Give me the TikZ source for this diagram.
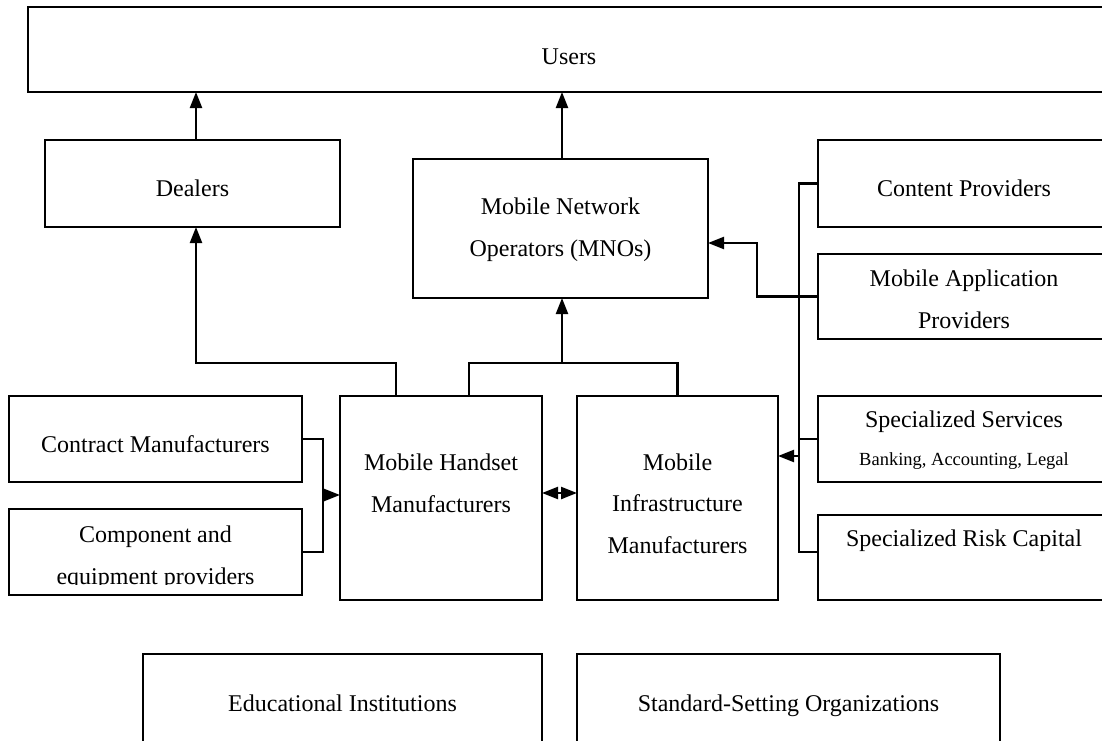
\documentclass[tikz,border=0pt]{standalone}
\usepackage{fontspec}
\setmainfont{Liberation Serif}
\usetikzlibrary{arrows.meta}
\begin{document}
\begin{tikzpicture}[x=1pt,y=-1pt,
  box/.style={draw=black,line width=1.4pt,inner sep=0pt,outer sep=0pt},
  lbl/.style={anchor=base,inner sep=0pt,font=\fontsize{24}{28}\selectfont},
  sublbl/.style={anchor=base,inner sep=0pt,font=\fontsize{18.5}{22}\selectfont},
  link/.style={line width=2.3pt},
  conn/.style={link,-{Triangle[length=16pt,width=12pt]}},
  dconn/.style={link,{Triangle[length=16pt,width=12pt]}-{Triangle[length=16pt,width=12pt]}}
]
\clip (0,0) rectangle (1102,740);

% boxes
\node[box,minimum width=1082pt,minimum height=85pt]  (users)     at (569,49.5) {};
\node[box,minimum width=295pt,minimum height=87pt]   (dealers)   at (192.5,183.5) {};
\node[box,minimum width=295pt,minimum height=139pt]  (mno)       at (560.5,228.5) {};
\node[box,minimum width=292pt,minimum height=87pt]   (content)   at (964,183.5) {};
\node[box,minimum width=292pt,minimum height=85pt]   (app)       at (964,296.5) {};
\node[box,minimum width=293pt,minimum height=86pt]   (contract)  at (155.5,439) {};
\node[box,minimum width=293pt,minimum height=86pt]   (component) at (155.5,552) {};
\node[box,minimum width=202pt,minimum height=204pt]  (handset)   at (441,498) {};
\node[box,minimum width=201pt,minimum height=204pt]  (infra)     at (677.5,498) {};
\node[box,minimum width=292pt,minimum height=86pt]   (services)  at (964,439) {};
\node[box,minimum width=292pt,minimum height=85pt]   (risk)      at (964,557.5) {};
\node[box,minimum width=399pt,minimum height=106pt]  (edu)       at (342.5,707) {};
\node[box,minimum width=423pt,minimum height=106pt]  (std)       at (788.5,707) {};

% labels
\node[lbl] (users-t)    at (569,64)     {Users};
\node[lbl] (dealers-t)  at (192.5,196)  {Dealers};
\node[lbl] (mno-t1)     at (560.5,214)  {Mobile Network};
\node[lbl] (mno-t2)     at (560.5,256)  {Operators (MNOs)};
\node[lbl] (content-t)  at (964,196)    {Content Providers};
\node[lbl] (app-t1)     at (964,286)    {Mobile Application};
\node[lbl] (app-t2)     at (964,328)    {Providers};
\node[lbl] (contract-t) at (155.5,452)  {Contract Manufacturers};
\begin{scope}
  \clip (component.north west) rectangle ([yshift=11pt]component.south east);
  \node[lbl] (component-t1) at (155.5,542) {Component and};
  \node[lbl] (component-t2) at (155.5,584) {equipment providers};
\end{scope}
\node[lbl] (handset-t1) at (441,470)    {Mobile Handset};
\node[lbl] (handset-t2) at (441,512)    {Manufacturers};
\node[lbl] (infra-t1)   at (677.5,470)  {Mobile};
\node[lbl] (infra-t2)   at (677.5,511.5) {Infrastructure};
\node[lbl] (infra-t3)   at (677.5,553)  {Manufacturers};
\node[lbl] (services-t) at (964,427)    {Specialized Services};
\node[sublbl] (services-s) at (964,465) {Banking, Accounting, Legal};
\node[lbl] (risk-t)     at (964,546)    {Specialized Risk Capital};
\node[lbl] (edu-t)      at (342.5,711)  {Educational Institutions};
\node[lbl] (std-t)      at (788.5,711)  {Standard-Setting Organizations};

% routing points
\coordinate (lvl)    at (0,363);
\coordinate (hsA)    at ([xshift=-45pt]handset.north);
\coordinate (hsB)    at ([xshift=28pt]handset.north);
\coordinate (dlr)    at ([xshift=3.5pt]dealers.north);
\coordinate (mnotop) at ([xshift=1.5pt]mno.north);
\coordinate (cbus)   at (323,495);
\coordinate (dbl)    at (0,493);
\coordinate (rbus)   at (799,0);
\coordinate (knee)   at (757,0);
\coordinate (mnoin)  at ([yshift=-14.5pt]mno.east);
\coordinate (svcin)  at ([yshift=42pt]infra.east);
\coordinate (riskc)  at ([yshift=5.5pt]risk.west);

% upward flows
\draw[conn] (dlr) -- (dlr |- users.south);
\draw[conn] (mnotop) -- (mnotop |- users.south);
\draw[conn] (hsA) |- (dlr |- lvl) -- (dlr |- dealers.south);
\draw[link] (hsB) |- (lvl -| infra.north) -- (infra.north);
\draw[conn] (mnotop |- lvl) -- (mnotop |- mno.south);

% suppliers into handset makers
\draw[link] (contract.east) -- (contract.east -| cbus) -- (component.east -| cbus) -- (component.east);
\draw[conn] (cbus) -- (cbus -| handset.west);
\draw[dconn] (handset.east |- dbl) -- (infra.west |- dbl);

% right-hand providers
\draw[link] (content.west) -- (content.west -| rbus) -- (riskc -| rbus) -- (riskc);
\draw[link] (services.west) -- (services.west -| rbus);
\draw[conn] (app.west) -| (knee |- mnoin) -- (mnoin);
\draw[conn] (rbus |- svcin) -- (svcin);
\end{tikzpicture}
\end{document}
